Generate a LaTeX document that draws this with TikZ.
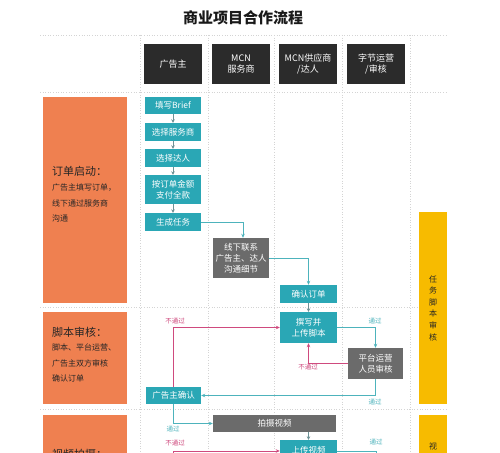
\documentclass[tikz,border=0pt]{standalone}
\usepackage{fontspec}
\setmainfont{Noto Sans CJK SC}
\usetikzlibrary{arrows.meta}
\definecolor{teal1}{HTML}{2AA7B5}
\definecolor{tealline}{HTML}{4DB3BC}
\definecolor{grayb}{HTML}{6B6B6B}
\definecolor{darkb}{HTML}{2B2B2B}
\definecolor{orangeb}{HTML}{EF8050}
\definecolor{yellowb}{HTML}{F7BB00}
\definecolor{pinkl}{HTML}{CF4A7E}
\definecolor{gridc}{HTML}{D4D4D4}
\definecolor{stepar}{HTML}{6E9296}
\tikzset{
  hdr/.style={fill=darkb,text=white,align=center,inner sep=0pt,font=\fontsize{9}{11}\selectfont},
  tbox/.style={fill=teal1,text=white,align=center,inner sep=0pt,font=\fontsize{8.5}{11}\selectfont},
  gbox/.style={fill=grayb,text=white,align=center,inner sep=0pt,font=\fontsize{8.5}{11}\selectfont},
  obox/.style={fill=orangeb,inner sep=0pt},
  ybox/.style={fill=yellowb,inner sep=0pt},
  otext/.style={anchor=west,align=left,text=black!85,font=\fontsize{8}{15.5}\selectfont,inner sep=0pt},
  ohead/.style={anchor=west,text=black!85,font=\fontsize{11}{13}\selectfont,inner sep=0pt},
  gridl/.style={draw=gridc,dotted,line width=0.6pt},
  steparrow/.style={draw=stepar,line width=0.7pt,-{Stealth[length=3.5pt,width=3.5pt]}},
  okarrow/.style={draw=tealline,line width=0.8pt,-{Stealth[length=4pt,width=3.5pt]}},
  noarrow/.style={draw=pinkl,line width=0.8pt,-{Stealth[length=4pt,width=3.5pt]}},
  oklab/.style={text=tealline,font=\fontsize{6.5}{8}\selectfont,inner sep=0pt},
  nolab/.style={text=pinkl,font=\fontsize{6.5}{8}\selectfont,inner sep=0pt},
}
\begin{document}
\begin{tikzpicture}[x=1pt,y=-1pt]
\useasboundingbox (0,0) rectangle (500,452);
\clip (0,0) rectangle (500,452);
\fill[white] (0,0) rectangle (500,452);
% grid
\foreach \yy in {35,92,307,409} \draw[gridl] (40,\yy) -- (448,\yy);
\foreach \xx in {140,208,274,342,410} \draw[gridl] (\xx,35) -- (\xx,460);
% title
\node[font=\fontsize{15}{18}\selectfont\bfseries,text=black!90] (title) at (243,18) {商业项目合作流程};
% headers
\node[hdr,minimum width=58pt,minimum height=40pt] (h1) at (173,64) {广告主};
\node[hdr,minimum width=58pt,minimum height=40pt] (h2) at (241,64) {MCN\\服务商};
\node[hdr,minimum width=58pt,minimum height=40pt] (h3) at (308,64) {MCN供应商\\/达人};
\node[hdr,minimum width=58pt,minimum height=40pt] (h4) at (376,64) {字节运营\\/审核};
% orange sections
\node[obox,minimum width=84pt,minimum height=206pt] (o1) at (85,200) {};
\node[obox,minimum width=84pt,minimum height=92pt] (o2) at (85,358) {};
\node[obox,minimum width=84pt,minimum height=80pt] (o3) at (85,455) {};
\node[ohead] (o1h) at (52,171) {订单启动：};
\node[otext] (o1t) at (52,203) {广告主填写订单，\\线下通过服务商\\沟通};
\node[ohead] (o2h) at (52,332) {脚本审核：};
\node[otext] (o2t) at (52,363) {脚本、平台运营、\\广告主双方审核\\确认订单};
\node[ohead] (o3h) at (52,454) {视频拍摄：};
% yellow
\node[ybox,minimum width=28pt,minimum height=192pt] (y1) at (433,308) {};
\node[ybox,minimum width=28pt,minimum height=80pt] (y2) at (433,455) {};
\node[align=center,text=black!85,font=\fontsize{8}{11.6}\selectfont,inner sep=0pt] (y1t) at (433,308) {任\\务\\脚\\本\\审\\核};
\node[text=black!85,font=\fontsize{8}{11.6}\selectfont,inner sep=0pt] (y2t) at (433,446) {视};
% steps
\node[tbox,minimum width=56pt,minimum height=17pt] (s1) at (173,105.5) {填写Brief};
\node[tbox,minimum width=56pt,minimum height=18pt] (s2) at (173,132) {选择服务商};
\node[tbox,minimum width=56pt,minimum height=18pt] (s3) at (173,158) {选择达人};
\node[tbox,minimum width=56pt,minimum height=29pt] (s4) at (173,189.5) {按订单金额\\支付全款};
\node[tbox,minimum width=56pt,minimum height=18pt] (s5) at (173,222) {生成任务};
\node[gbox,minimum width=56pt,minimum height=40pt] (g1) at (241,258) {线下联系\\广告主、达人\\沟通细节};
\node[tbox,minimum width=57pt,minimum height=18pt] (c1) at (308.5,294) {确认订单};
\node[tbox,minimum width=57pt,minimum height=31pt] (w1) at (308.5,327.5) {撰写并\\上传脚本};
\node[gbox,minimum width=55pt,minimum height=31pt] (p1) at (375.5,363.5) {平台运营\\人员审核};
\node[tbox,minimum width=55pt,minimum height=17pt] (a1) at (173.5,395.5) {广告主确认};
\node[gbox,minimum width=123pt,minimum height=17pt] (v1) at (274.5,423.5) {拍摄视频};
\node[tbox,minimum width=57pt,minimum height=20pt] (u1) at (308.5,450) {上传视频};
% arrows
\draw[steparrow] (s1) -- (s2);
\draw[steparrow] (s2) -- (s3);
\draw[steparrow] (s3) -- (s4);
\draw[steparrow] (s4) -- (s5);
\draw[okarrow] (s5.east) -| ([xshift=2pt]g1.north);
\draw[okarrow] (g1.east) -| (c1.north);
\draw[steparrow] (c1) -- (w1);
\draw[okarrow] (w1.east) -| (p1.north);
\node[oklab] (l1) at (375,321) {通过};
\draw[noarrow] (p1.west) -| (w1.south);
\node[nolab] (l2) at (308,367) {不通过};
\draw[okarrow] (p1.south) |- (a1.east);
\node[oklab] (l3) at (375,402) {通过};
\draw[noarrow] (a1.north) |- (w1.west);
\node[nolab] (l4) at (175,321) {不通过};
\draw[okarrow] (a1.south) |- (v1.west);
\node[oklab] (l5) at (173,429) {通过};
\draw[steparrow] (v1.south -| u1.north) -- (u1.north);
\coordinate (pb) at (173,470);
\draw[noarrow] (pb) |- ([yshift=-1pt]u1.west);
\node[nolab] (l6) at (175,443) {不通过};
\coordinate (ob) at (376,470);
\draw[draw=tealline,line width=0.8pt] ([yshift=-1pt]u1.east) -| (ob);
\node[oklab] (l7) at (376,442) {通过};
\end{tikzpicture}
\end{document}
